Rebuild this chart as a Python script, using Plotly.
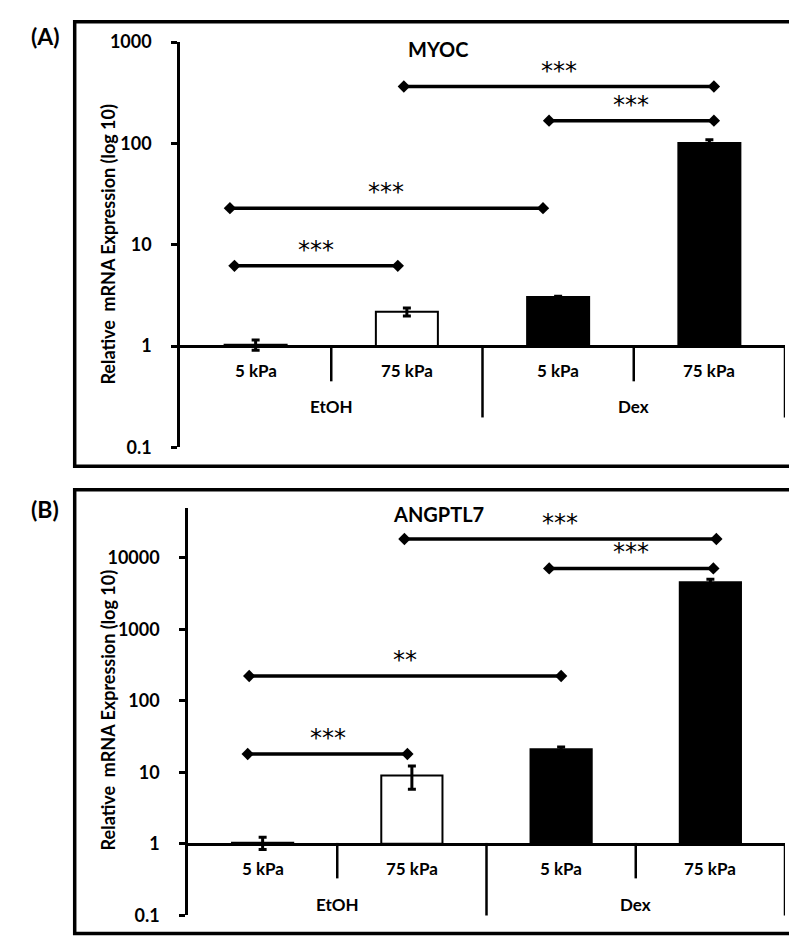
import numpy as np
import plotly.graph_objects as go

W, H = 797, 938

# ---------------- data ----------------
sub_labels = ["5 kPa", "75 kPa", "5 kPa", "75 kPa"]
group_labels = ["EtOH", "Dex"]
bar_colors = ["white", "white", "black", "black"]

myoc_vals = [1.03, 2.18, 3.05, 101.0]
myoc_err = [0.12, 0.2, 0.05, 8.0]
myoc_br_x0 = [-0.14, -0.17, 0.98, 1.94]
myoc_br_x1 = [0.94, 1.90, 3.03, 3.03]
myoc_br_y = [6.2, 23.0, 365.0, 168.0]
myoc_br_lab = ["***", "***", "***", "***"]

ang_vals = [1.03, 9.0, 21.0, 4550.0]
ang_err = [0.2, 3.2, 1.5, 450.0]
ang_br_x0 = [-0.10, -0.09, 0.95, 1.92]
ang_br_x1 = [0.97, 2.00, 3.04, 3.02]
ang_br_y = [18.0, 222.0, 18300.0, 7100.0]
ang_br_lab = ["***", "**", "***", "***"]

yticks_a = [0.1, 1, 10, 100, 1000]
yticks_b = [0.1, 1, 10, 100, 1000, 10000]

FONT = "Lato"
STAR_FONT = "DejaVu Sans"


def xp(px):
    return px / W


def yp(py):
    return 1 - py / H


panels = [
    dict(name="MYOC", letter="(A)", vals=myoc_vals, err=myoc_err,
         bx0=myoc_br_x0, bx1=myoc_br_x1, by=myoc_br_y, blab=myoc_br_lab,
         yticks=yticks_a, ax_left=172, ax_right=777, y_bot=437.7, y_top=22.7,
         rng=[-1, 3], base_py=334, short_py=370, long_py=407,
         sub_py=359, grp_py=396, title_py=30, letter_py=16, ytitle_py=230,
         box=(66.7, 1.8, 792.5, 457.0)),
    dict(name="ANGPTL7", letter="(B)", vals=ang_vals, err=ang_err,
         bx0=ang_br_x0, bx1=ang_br_x1, by=ang_br_y, blab=ang_br_lab,
         yticks=yticks_b, ax_left=180, ax_right=777, y_bot=916.7, y_top=500,
         rng=[-1, -1 + (916.7 - 500) / 73.2], base_py=842.7, short_py=879,
         long_py=917, sub_py=869, grp_py=906, title_py=506, letter_py=501,
         ytitle_py=707, box=(66.7, 481.0, 792.0, 935.5)),
]

fig = go.Figure()
shapes = []
annotations = []
layout = {}

for i, p in enumerate(panels):
    sfx = "" if i == 0 else str(i + 1)
    xa, ya = "x" + sfx, "y" + sfx
    ydom = [yp(p["y_bot"]), yp(p["y_top"])]
    r0, r1 = p["rng"]
    pos_one = ydom[0] + (0 - r0) / (r1 - r0) * (ydom[1] - ydom[0])

    layout["xaxis" + sfx] = dict(
        domain=[xp(p["ax_left"]), xp(p["ax_right"])], range=[-0.5, 3.5],
        anchor="free", position=pos_one, showline=True, linecolor="black",
        linewidth=2.5, showticklabels=False, ticks="", showgrid=False,
        zeroline=False, fixedrange=True)
    layout["yaxis" + sfx] = dict(
        domain=ydom, type="log", range=p["rng"], anchor=xa, showline=True,
        linecolor="black", linewidth=2.5, ticks="outside", ticklen=6,
        tickwidth=2.5, tickcolor="black", tickvals=p["yticks"],
        ticktext=[("%g" % v) for v in p["yticks"]], showgrid=False,
        zeroline=False, ticklabelstandoff=16,
        tickfont=dict(family=FONT, size=18, color="black", weight="bold"),
        fixedrange=True)

    vals = np.array(p["vals"])
    fig.add_trace(go.Bar(
        x=[0, 1, 2, 3], y=vals - 1, base=1, width=0.41,
        marker=dict(color=bar_colors, line=dict(color="black", width=2)),
        error_y=dict(type="data", array=p["err"], arrayminus=p["err"],
                     color="black", thickness=3, width=4),
        xaxis=xa, yaxis=ya, hoverinfo="skip"))

    for x0, x1, yv, lab in zip(p["bx0"], p["bx1"], p["by"], p["blab"]):
        fig.add_trace(go.Scatter(
            x=[x0, x1], y=[yv, yv], mode="lines+markers",
            line=dict(color="black", width=3.5),
            marker=dict(symbol="diamond", size=9.5, color="black"),
            xaxis=xa, yaxis=ya, hoverinfo="skip"))
        annotations.append(dict(
            x=(x0 + x1) / 2, y=np.log10(yv), xref=xa, yref=ya, text=lab,
            showarrow=False, yanchor="bottom", yshift=0,
            font=dict(family=STAR_FONT, size=24, color="black")))

    # category dividers
    for k, xv in enumerate([0.5, 1.5, 2.5, 3.5]):
        bottom = p["short_py"] if k % 2 == 0 else p["long_py"]
        shapes.append(dict(type="line", xref=xa, yref="paper", x0=xv, x1=xv,
                           y0=yp(p["base_py"]), y1=yp(bottom),
                           line=dict(color="black", width=2.5)))
    for k, lab in enumerate(sub_labels):
        annotations.append(dict(
            x=k, y=yp(p["sub_py"]), xref=xa, yref="paper", text=lab,
            showarrow=False, yanchor="middle",
            font=dict(family=FONT, size=17, color="black", weight="bold")))
    for k, lab in enumerate(group_labels):
        annotations.append(dict(
            x=0.5 + 2 * k, y=yp(p["grp_py"]), xref=xa, yref="paper", text=lab,
            showarrow=False, yanchor="middle",
            font=dict(family=FONT, size=17, color="black", weight="bold")))

    # titles
    annotations.append(dict(
        x=xp(430), y=yp(p["title_py"]), xref="paper", yref="paper",
        text=p["name"], showarrow=False, yanchor="middle",
        font=dict(family=FONT, size=20, color="black", weight="bold")))
    annotations.append(dict(
        x=xp(21), y=yp(p["letter_py"]), xref="paper", yref="paper",
        text=p["letter"], showarrow=False, yanchor="middle",
        font=dict(family=FONT, size=23, color="black", weight="bold")))
    annotations.append(dict(
        x=xp(100), y=yp(p["ytitle_py"]), xref="paper", yref="paper",
        text="Relative  mRNA Expression (log 10)", showarrow=False,
        textangle=-90, xanchor="center", yanchor="middle",
        font=dict(family=FONT, size=18, color="black", weight="bold")))

    bx0, by0, bx1, by1 = p["box"]
    shapes.append(dict(type="rect", xref="paper", yref="paper",
                       x0=xp(bx0), x1=xp(bx1), y0=yp(by1), y1=yp(by0),
                       line=dict(color="black", width=3.5)))

fig.update_layout(
    width=W, height=H, margin=dict(l=0, r=0, t=0, b=0),
    paper_bgcolor="white", plot_bgcolor="white", showlegend=False,
    barmode="overlay", shapes=shapes, annotations=annotations, **layout)

fig.write_html("out.html")
